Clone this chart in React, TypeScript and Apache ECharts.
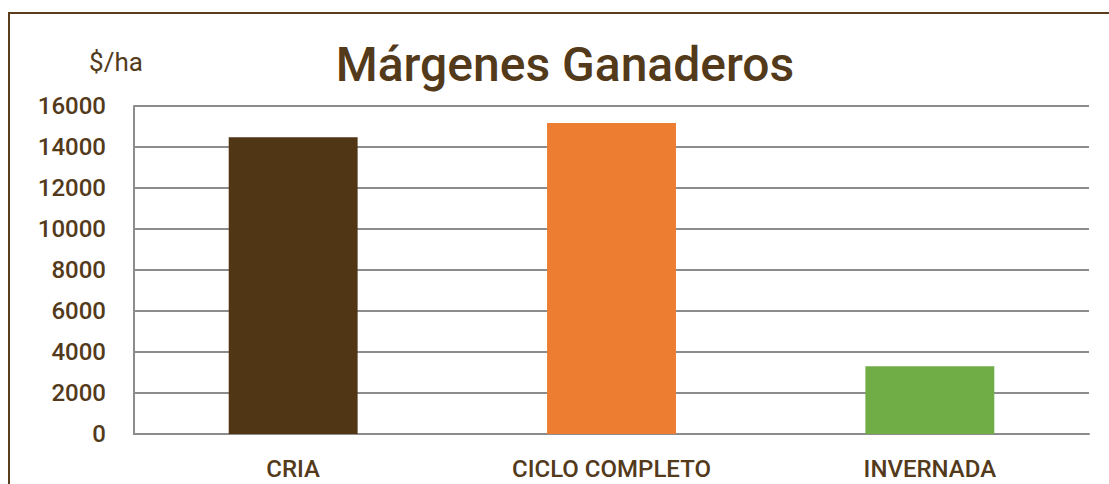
import React, { useEffect, useRef } from "react";
import * as echarts from "echarts";

const categories = ["CRIA", "CICLO COMPLETO", "INVERNADA"];
const values = [14480, 15170, 3310];
const barColors = ["#513616", "#ED7D31", "#70AD47"];
const yMin = 0;
const yMax = 16000;
const yStep = 2000;

const TEXT = "#533a1b";
const FONT = "Roboto";

export default function App() {
  const ref = useRef<HTMLDivElement>(null);
  useEffect(() => {
    document.body.style.margin = "0";
    const chart = echarts.init(ref.current!, undefined, { renderer: "svg" });
    chart.setOption({
      animation: false,
      backgroundColor: "#ffffff",
      grid: { left: 134, right: 20, top: 106, bottom: 50, containLabel: false },
      graphic: [
        {
          type: "rect",
          shape: { x: 9, y: 13, width: 1200, height: 600 },
          style: { fill: "none", stroke: "#5a3d1c", lineWidth: 2 },
          silent: true,
        },
        {
          type: "text",
          x: 565,
          y: 64,
          style: {
            text: "Márgenes Ganaderos",
            fill: TEXT,
            font: `500 48px ${FONT}`,
            textAlign: "center",
            textVerticalAlign: "middle",
          },
        },
        {
          type: "text",
          x: 116,
          y: 62,
          style: {
            text: "$/ha",
            fill: TEXT,
            font: `400 26px ${FONT}`,
            textAlign: "center",
            textVerticalAlign: "middle",
          },
        },
      ],
      xAxis: {
        type: "category",
        data: categories,
        axisLine: { show: true, lineStyle: { color: "#8c8c8c", width: 2 } },
        axisTick: { show: false },
        axisLabel: {
          color: TEXT,
          fontFamily: FONT,
          fontWeight: 500,
          fontSize: 24,
          margin: 23,
        },
      },
      yAxis: {
        type: "value",
        min: yMin,
        max: yMax,
        interval: yStep,
        axisLine: { show: true, lineStyle: { color: "#8c8c8c", width: 2 } },
        axisTick: { show: false },
        splitLine: { show: true, lineStyle: { color: "#8c8c8c", width: 2 } },
        axisLabel: {
          color: TEXT,
          fontFamily: FONT,
          fontWeight: 500,
          fontSize: 24,
          margin: 28,
          formatter: (v: number) => String(v),
        },
      },
      series: [
        {
          type: "bar",
          data: values.map((v, i) => ({ value: v, itemStyle: { color: barColors[i] } })),
          barWidth: "40.5%",
        },
      ],
    });
    return () => chart.dispose();
  }, []);
  return <div ref={ref} style={{ width: 1109, height: 484 }} />;
}
